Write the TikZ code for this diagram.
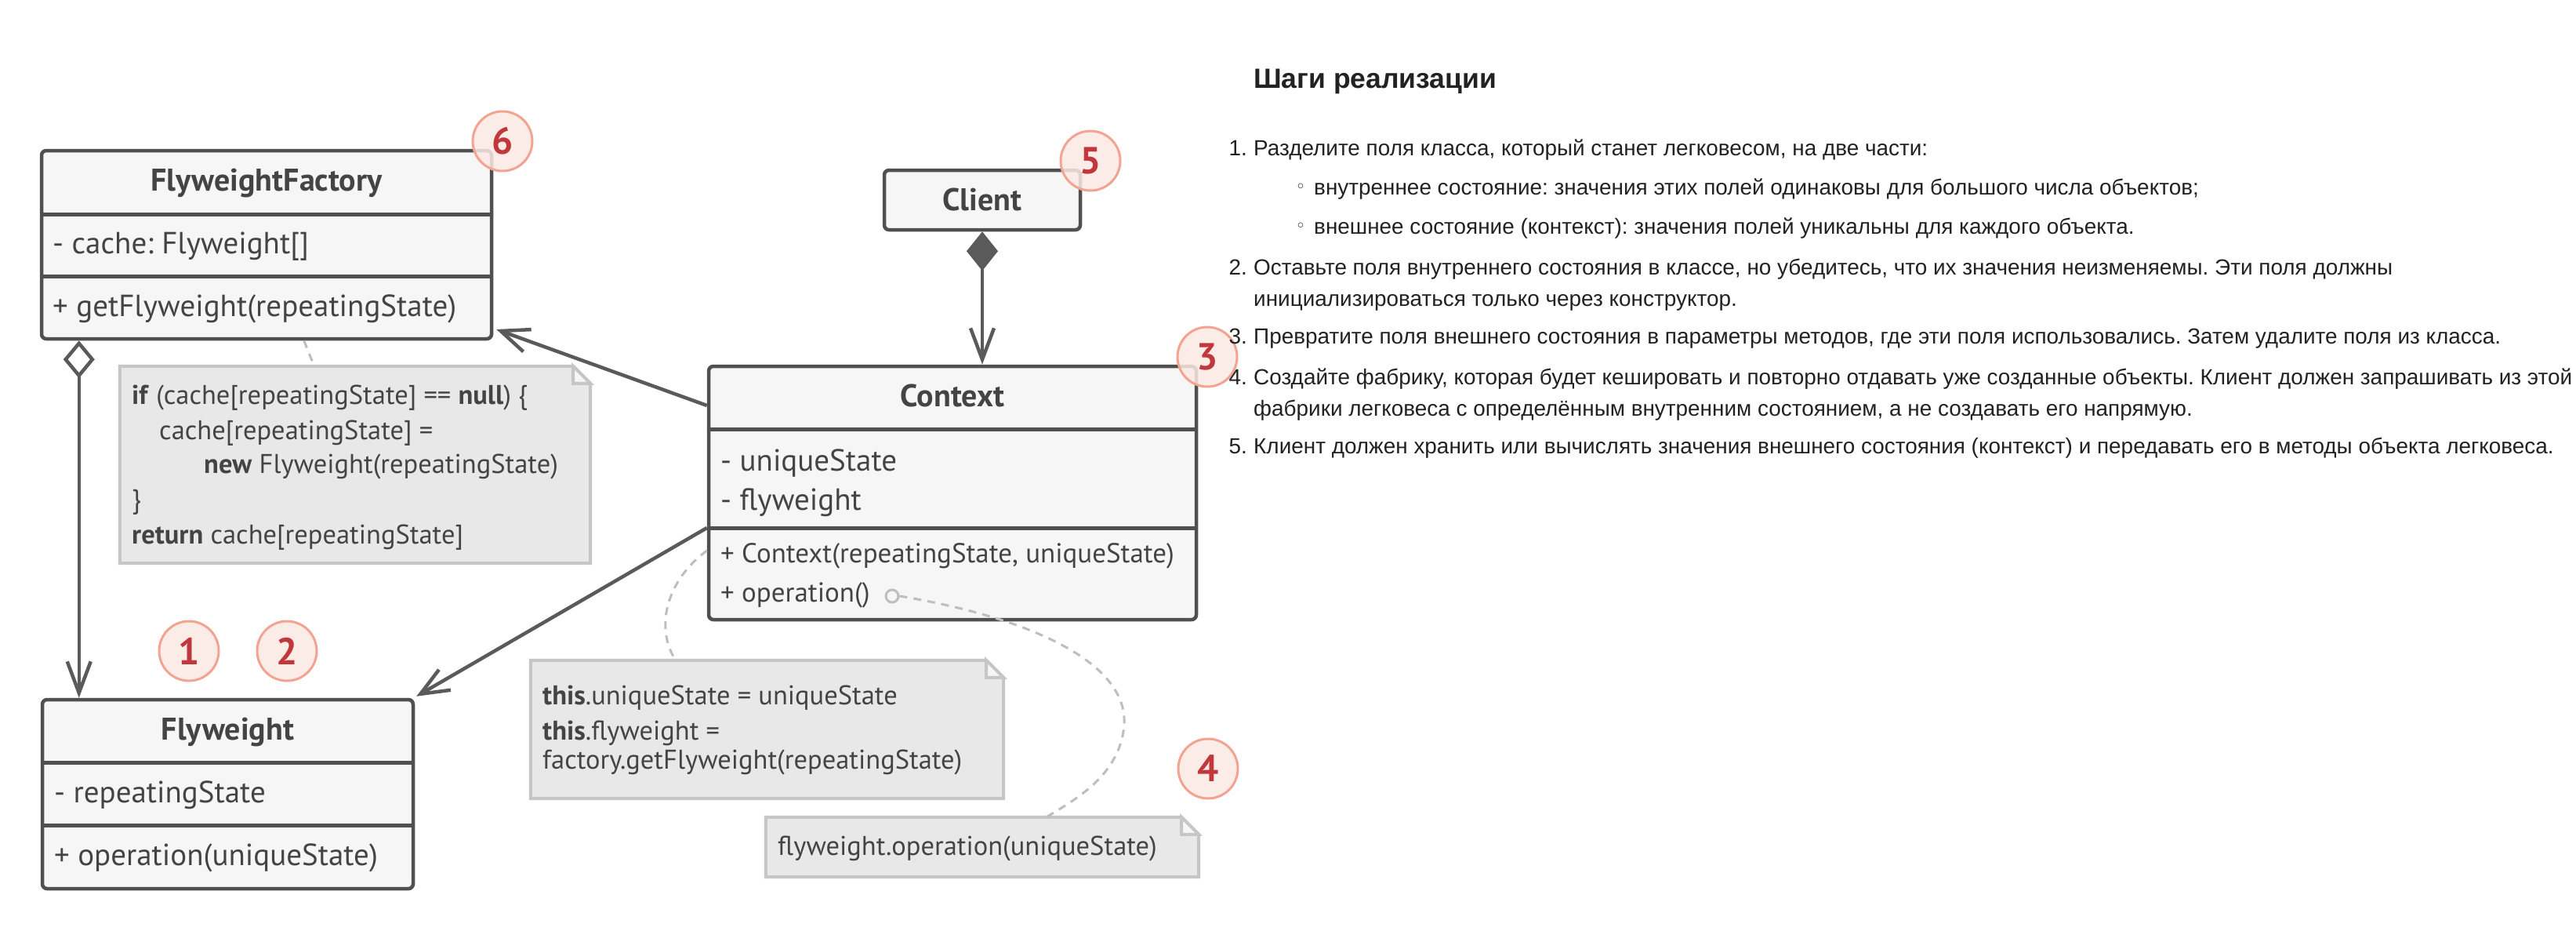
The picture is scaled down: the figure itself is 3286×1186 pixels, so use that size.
\documentclass[tikz,border=0pt]{standalone}
\usepackage{fontspec}
\setmainfont{PT Sans}
\newfontfamily\arialf{Liberation Sans}
\newfontfamily\dejavuf{DejaVu Sans}
\usetikzlibrary{arrows.meta,calc}
\definecolor{boxline}{HTML}{505050}
\definecolor{boxfill}{HTML}{F6F6F6}
\definecolor{txt}{HTML}{444444}
\definecolor{notefill}{HTML}{E8E8E8}
\definecolor{noteline}{HTML}{C6C6C6}
\definecolor{dashc}{HTML}{BEBEBE}
\definecolor{badgefill}{HTML}{FCE9E5}
\definecolor{badgeline}{HTML}{F2A391}
\definecolor{badgetxt}{HTML}{C0383B}
\definecolor{rtxt}{HTML}{222222}
\definecolor{connc}{HTML}{5A5A5A}
\frenchspacing
\newcommand\myfs[1]{\fontsize{#1}{#1}\selectfont}
\newcommand\mynote[1]{%
  \draw[notest] (#1.north west) -- ([xshift=-22pt]#1.north east) -- ([yshift=-22pt]#1.north east) -- (#1.south east) -- (#1.south west) -- cycle;
  \draw[notest, fill=white!60!notefill] ([xshift=-22pt]#1.north east) -- ([xshift=-22pt,yshift=-22pt]#1.north east) -- ([yshift=-22pt]#1.north east) -- cycle;}
\begin{document}
\begin{tikzpicture}[x=1pt,y=-1pt,
  classbox/.style={draw=boxline, fill=boxfill, line width=4.5pt, rounded corners=6pt, inner sep=0pt},
  divider/.style={draw=boxline, line width=5pt},
  ctext/.style={anchor=base west, inner sep=0pt, text=txt, font=\myfs{39}},
  ctitle/.style={anchor=base, inner sep=0pt, text=txt, font=\myfs{40}\bfseries},
  ntext/.style={anchor=base west, inner sep=0pt, text=txt, font=\myfs{34.5}},
  notenode/.style={rectangle, inner sep=0pt, minimum width=#1},
  notest/.style={draw=noteline, fill=notefill, line width=4pt},
  conn/.style={draw=connc, line width=4.5pt},
  barb/.style={-{Straight Barb[length=36pt,width=30pt]}},
  dashln/.style={draw=dashc, line width=3pt, dash pattern=on 10pt off 8pt},
  badge/.style={circle, minimum size=76pt, inner sep=0pt, draw=badgeline, fill=badgefill, line width=3pt, fill opacity=0.85, text opacity=1, text=badgetxt, font=\myfs{48}\bfseries},
  rhead/.style={anchor=base west, inner sep=0pt, text=rtxt, font=\arialf\myfs{35.5}\bfseries},
  rtext/.style={anchor=base west, inner sep=0pt, text=rtxt, font=\arialf\myfs{27.9}},
  rnum/.style={anchor=base east, inner sep=0pt, text=rtxt, font=\arialf\myfs{27.9}},
  rbul/.style={anchor=center, inner sep=0pt, text=rtxt, font=\dejavuf\myfs{22}}
]
\fill[white] (0,0) rectangle (3286,1186);
\useasboundingbox (0,0) rectangle (3286,1186);

% ---------- notes ----------
\node[notenode=600pt, minimum height=251pt] (n1) at (453,592.5) {};
\node[notenode=603pt, minimum height=176pt] (n2) at (978.5,930) {};
\node[notenode=552pt, minimum height=76pt] (n3) at (1253,1080) {};
\mynote{n1}
\mynote{n2}
\mynote{n3}

% ---------- classes ----------
\node[classbox, minimum width=574pt, minimum height=240pt] (ff) at (340,312) {};
\draw[divider] (ff.west |- 0,273) -- (ff.east |- 0,273);
\draw[divider] (ff.west |- 0,352) -- (ff.east |- 0,352);
\node[ctitle] (fft) at (340,243) {FlyweightFactory};
\node[ctext] (ffc) at (67,323) {- cache: Flyweight[]};
\node[ctext] (ffm) at (67,403) {+ getFlyweight(repeatingState)};

\node[classbox, minimum width=473pt, minimum height=241pt] (fw) at (290.5,1012.5) {};
\draw[divider] (fw.west |- 0,972) -- (fw.east |- 0,972);
\draw[divider] (fw.west |- 0,1052) -- (fw.east |- 0,1052);
\node[ctitle] (fwt) at (290.5,943) {Flyweight};
\node[ctext] (fwf) at (69,1023) {- repeatingState};
\node[ctext] (fwm) at (69,1103) {+ operation(uniqueState)};

\node[classbox, minimum width=622pt, minimum height=323pt] (ctx) at (1215,628.5) {};
\draw[divider] (ctx.west |- 0,547) -- (ctx.east |- 0,547);
\draw[divider] (ctx.west |- 0,673) -- (ctx.east |- 0,673);
\node[ctitle] (ctxt) at (1215,518) {Context};
\node[ctext] (ctxf1) at (919,600) {- uniqueState};
\node[ctext] (ctxf2) at (919,650) {- flyweight};
\node[ctext, font=\myfs{35}] (ctxm1) at (919,717) {+ Context(repeatingState, uniqueState)};
\node[ctext, font=\myfs{35}] (ctxm2) at (919,767) {+ operation()};
\node[circle, draw=dashc, line width=3pt, minimum size=16pt, inner sep=0pt] (opc) at (1138,760) {};

\node[classbox, minimum width=250pt, minimum height=76pt] (cl) at (1253,255) {};
\node[ctitle] (clt) at (1253,268) {Client};

% ---------- note texts ----------
\node[ntext] (l1) at (168,515) {\textbf{if} (cache[repeatingState] == \textbf{null}) \{};
\node[ntext] (l2) at (203,560) {cache[repeatingState] =};
\node[ntext] (l3) at (260,603) {\textbf{new} Flyweight(repeatingState)};
\node[ntext] (l4) at (168,648) {\}};
\node[ntext] (l5) at (168,693) {\textbf{return} cache[repeatingState]};

\node[ntext] (m1) at (692,898) {\textbf{this}.uniqueState = uniqueState};
\node[ntext] (m2) at (692,943) {\textbf{this}.flyweight =};
\node[ntext] (m3) at (692,980) {factory.getFlyweight(repeatingState)};

\node[ntext] (o1) at (992,1090) {flyweight.operation(uniqueState)};

% ---------- connectors ----------
\draw[dashln] ([xshift=337pt]ff.south west) -- ([xshift=248pt]n1.north west);
\draw[dashln] (ctx.west |- 0,702) .. controls (850,740) and (835,800) .. ([xshift=185pt]n2.north west);
\draw[dashln] (opc.east) .. controls (1300,785) and (1440,840) .. (1434,925) .. controls (1428,990) and (1370,1020) .. ([xshift=358pt]n3.north west);

\draw[conn, {Diamond[open,length=48pt,width=40pt]}-{Straight Barb[length=40pt,width=30pt]}] ([xshift=50pt]ff.south west) -- ([xshift=50pt]ff.south west |- fw.north);
\draw[conn, {Diamond[length=50pt,width=40pt]}-{Straight Barb[length=40pt,width=30pt]}] (cl.south) -- (cl.south |- ctx.north);
\draw[conn, barb] (ctx.west |- 0,517) -- ([xshift=4pt]ff.east |- 0,420);
\draw[conn, barb] (ctx.west |- 0,673) -- ([xshift=2pt,yshift=2pt]fw.north east);

% ---------- badges ----------
\node[badge] (b6) at (641,180) {6};
\node[badge] (b5) at (1391,205) {5};
\node[badge] (b3) at (1540,455) {3};
\node[badge] (b1) at (241,830) {1};
\node[badge] (b2) at (366,830) {2};
\node[badge] (b4) at (1541,980) {4};

% ---------- right text ----------
\node[rhead] (h) at (1599,112) {Шаги реализации};
\node[rnum] (k1) at (1591,198) {1.};
\node[rtext] (t1) at (1599,198) {Разделите поля класса, который станет легковесом, на две части:};
\node[rbul] (u1) at (1659,240) {◦};
\node[rtext] (t1a) at (1676,248) {внутреннее состояние: значения этих полей одинаковы для большого числа объектов;};
\node[rbul] (u2) at (1659,290) {◦};
\node[rtext] (t1b) at (1676,298) {внешнее состояние (контекст): значения полей уникальны для каждого объекта.};
\node[rnum] (k2) at (1591,350) {2.};
\node[rtext] (t2) at (1599,350) {Оставьте поля внутреннего состояния в классе, но убедитесь, что их значения неизменяемы. Эти поля должны};
\node[rtext] (t2b) at (1599,390) {инициализироваться только через конструктор.};
\node[rnum] (k3) at (1591,438) {3.};
\node[rtext] (t3) at (1599,438) {Превратите поля внешнего состояния в параметры методов, где эти поля использовались. Затем удалите поля из класса.};
\node[rnum] (k4) at (1591,490) {4.};
\node[rtext] (t4) at (1599,490) {Создайте фабрику, которая будет кешировать и повторно отдавать уже созданные объекты. Клиент должен запрашивать из этой};
\node[rtext] (t4b) at (1599,530) {фабрики легковеса с определённым внутренним состоянием, а не создавать его напрямую.};
\node[rnum] (k5) at (1591,578) {5.};
\node[rtext] (t5) at (1599,578) {Клиент должен хранить или вычислять значения внешнего состояния (контекст) и передавать его в методы объекта легковеса.};
\end{tikzpicture}
\end{document}
